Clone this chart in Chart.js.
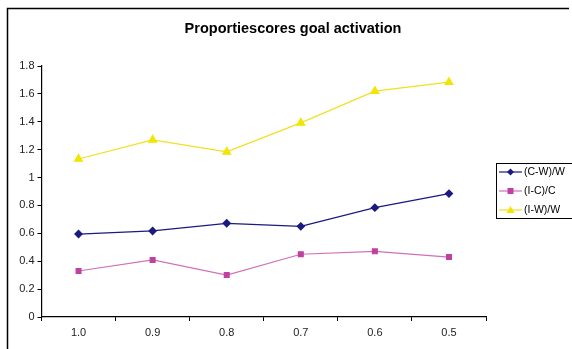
<!DOCTYPE html>
<html>
<head>
<meta charset="utf-8">
<script src="https://cdn.jsdelivr.net/npm/chart.js@4/dist/chart.umd.min.js"></script>
<style>
  html, body { margin: 0; padding: 0; background: #fff; }
  #wrap { width: 572px; height: 349px; position: relative; }
</style>
</head>
<body>
<div id="wrap"><canvas id="c" width="572" height="349"></canvas></div>
<script>
// Proportion scores per threshold level
const categories = ['1.0', '0.9', '0.8', '0.7', '0.6', '0.5'];
const seriesNames = ['(C-W)/W', '(I-C)/C', '(I-W)/W'];
const cwW = [0.595, 0.617, 0.672, 0.650, 0.784, 0.885];
const icC = [0.330, 0.409, 0.301, 0.450, 0.471, 0.430];
const iwW = [1.133, 1.270, 1.184, 1.392, 1.620, 1.684];
const yTicks = [0, 0.2, 0.4, 0.6, 0.8, 1, 1.2, 1.4, 1.6, 1.8];

const FONT = '"Liberation Sans", Arial, sans-serif';

// Outer frame, title and boxed legend drawn on the canvas
const decor = {
  id: 'decor',
  afterDraw(chart) {
    const ctx = chart.ctx;
    ctx.save();
    ctx.strokeStyle = '#000';
    ctx.lineWidth = 1.5;
    ctx.beginPath();
    ctx.moveTo(7.5, 349);
    ctx.lineTo(7.5, 8.5);
    ctx.lineTo(569, 8.5);
    ctx.stroke();

    ctx.fillStyle = '#000';
    ctx.font = 'bold 14.5px ' + FONT;
    ctx.textAlign = 'center';
    ctx.textBaseline = 'middle';
    ctx.fillText('Proportiescores goal activation', 293, 28.5);

    // legend
    ctx.lineWidth = 1;
    ctx.strokeStyle = '#000';
    ctx.strokeRect(496.5, 163.5, 80, 55);
    ctx.font = '10.5px ' + FONT;
    ctx.textAlign = 'left';
    const ys = [172, 191, 210];
    chart.data.datasets.forEach((ds, i) => {
      const y = ys[i];
      ctx.strokeStyle = ds.borderColor;
      ctx.lineWidth = 1.2;
      ctx.beginPath();
      ctx.moveTo(499, y);
      ctx.lineTo(522, y);
      ctx.stroke();
      ctx.fillStyle = ds.pointBackgroundColor;
      ctx.beginPath();
      if (ds.pointStyle === 'rectRot') {
        ctx.moveTo(510.5, y - 3.5); ctx.lineTo(514, y); ctx.lineTo(510.5, y + 3.5); ctx.lineTo(507, y);
      } else if (ds.pointStyle === 'rect') {
        ctx.rect(507.5, y - 3, 6, 6);
      } else {
        ctx.moveTo(510.5, y - 4); ctx.lineTo(514.5, y + 3); ctx.lineTo(506.5, y + 3);
      }
      ctx.closePath();
      ctx.fill();
      ctx.fillStyle = '#000';
      ctx.textBaseline = 'middle';
      ctx.fillText(ds.label, 524, y + 0.5);
    });
    ctx.restore();
  }
};

new Chart(document.getElementById('c'), {
  type: 'line',
  data: {
    labels: categories,
    datasets: [
      {
        label: seriesNames[0], data: cwW,
        borderColor: '#1a1a80', pointBackgroundColor: '#1a1a80', pointBorderColor: '#1a1a80',
        pointStyle: 'rectRot', pointRadius: 3.6, borderWidth: 1.2, tension: 0
      },
      {
        label: seriesNames[1], data: icC,
        borderColor: '#d070b8', pointBackgroundColor: '#c040a0', pointBorderColor: '#c040a0',
        pointStyle: 'rect', pointRadius: 3.4, borderWidth: 1.2, tension: 0
      },
      {
        label: seriesNames[2], data: iwW,
        borderColor: '#f0e020', pointBackgroundColor: '#f2e600', pointBorderColor: '#f2e600',
        pointStyle: 'triangle', pointRadius: 4.5, borderWidth: 1.2, tension: 0
      }
    ]
  },
  options: {
    responsive: false,
    animation: false,
    devicePixelRatio: 1,
    layout: { padding: { left: 0, right: 86, top: 66, bottom: 0 } },
    plugins: { legend: { display: false }, title: { display: false }, tooltip: { enabled: false } },
    scales: {
      x: {
        type: 'category',
        offset: true,
        border: { display: true, color: '#000', width: 1.2 },
        grid: { display: true, offset: true, drawOnChartArea: false, drawTicks: true, tickLength: 4, color: '#000' },
        ticks: { color: '#222', font: { family: FONT, size: 11 }, padding: 5, maxRotation: 0 },
        afterFit(s) { s.height = 32; }
      },
      y: {
        min: 0, max: 1.8,
        afterBuildTicks(s) { s.ticks = yTicks.map(v => ({ value: v })); },
        border: { display: true, color: '#000', width: 1.2 },
        grid: { display: true, drawOnChartArea: false, drawTicks: true, tickLength: 4, color: '#000' },
        ticks: { color: '#222', font: { family: FONT, size: 11 }, padding: 3, callback: v => String(v) },
        afterFit(s) { s.width = 41.5; }
      }
    }
  },
  plugins: [decor]
});
</script>
</body>
</html>
